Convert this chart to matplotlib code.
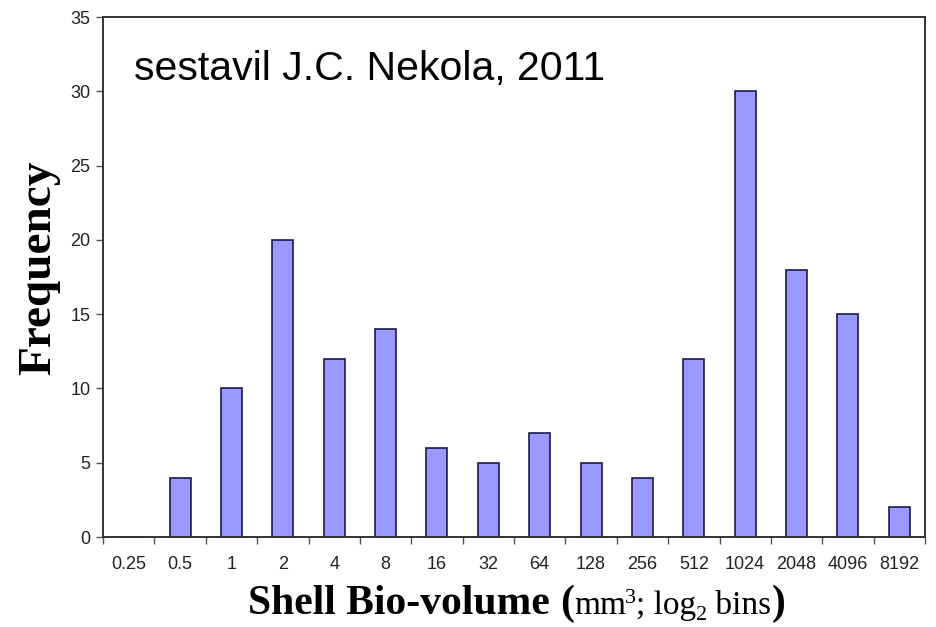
import matplotlib
matplotlib.use("Agg")
import matplotlib.pyplot as plt
import numpy as np

# Shell bio-volume bins (mm^3, log2 spacing) and counts per bin
bins = ["0.25", "0.5", "1", "2", "4", "8", "16", "32", "64", "128",
        "256", "512", "1024", "2048", "4096", "8192"]
counts = [0, 4, 10, 20, 12, 14, 6, 5, 7, 5, 4, 12, 30, 18, 15, 2]
y_ticks = [0, 5, 10, 15, 20, 25, 30, 35]

W, H = 936, 627
fig = plt.figure(figsize=(W / 100, H / 100), dpi=100)
ax = fig.add_axes([103 / W, 1 - 537 / H, (925 - 103) / W, (537 - 17) / H])

x = np.arange(len(bins))
ax.bar(x, counts, width=0.41, color="#9999ff", edgecolor="#1a1a4a", linewidth=1.2)

ax.set_xlim(-0.5, len(bins) - 0.5)
ax.set_ylim(0, 35)

# category labels centred, tick marks on the bin boundaries
ax.set_xticks(x)
ax.set_xticklabels(bins, fontsize=13, family="Liberation Sans", color="#222222")
ax.set_xticks(np.arange(-0.5, len(bins)), minor=True)
ax.tick_params(axis="x", which="major", length=0, pad=14)
ax.tick_params(axis="x", which="minor", length=5, width=1, color="#555555", direction="out")

ax.set_yticks(y_ticks)
ax.set_yticklabels([str(v) for v in y_ticks], fontsize=13, family="Liberation Sans", color="#222222")
ax.tick_params(axis="y", length=5, width=1, color="#555555", direction="out", pad=4)

for s in ax.spines.values():
    s.set_color("#333333")
    s.set_linewidth(1.4)

fig.text(134 / W, 1 - 80 / H, "sestavil J.C. Nekola, 2011",
         fontsize=29.5, family="Liberation Sans", color="black", va="baseline", ha="left")

fig.text(39 / W, 1 - 268 / H, "Frequency", rotation=90, fontsize=34, fontweight="bold",
         family="Liberation Serif", ha="center", va="center")

# x-axis title assembled piece by piece (mixed weights, super/subscript)
pieces = [
    ("Shell Bio-volume ", 30, "bold", 0, 0),
    ("(", 30, "bold", 0, 0),
    ("mm", 24, "normal", 0, 0),
    ("3", 16, "normal", 11, -1),
    ("; log", 24, "normal", 0, 0),
    ("2", 16, "normal", -6, 0),
    (" bins", 24, "normal", 0, 0),
    (")", 30, "bold", 0, 0),
]
renderer = fig.canvas.get_renderer()
cur_x = 248.0
base_y = H - 614.0
for txt, size, weight, dy, dx in pieces:
    cur_x += dx
    t = fig.text(cur_x / W, (base_y + dy) / H, txt, fontsize=size, fontweight=weight,
                 family="Liberation Serif", ha="left", va="baseline")
    bb = t.get_window_extent(renderer=renderer)
    cur_x += bb.width

fig.savefig("out.png", dpi=100)
